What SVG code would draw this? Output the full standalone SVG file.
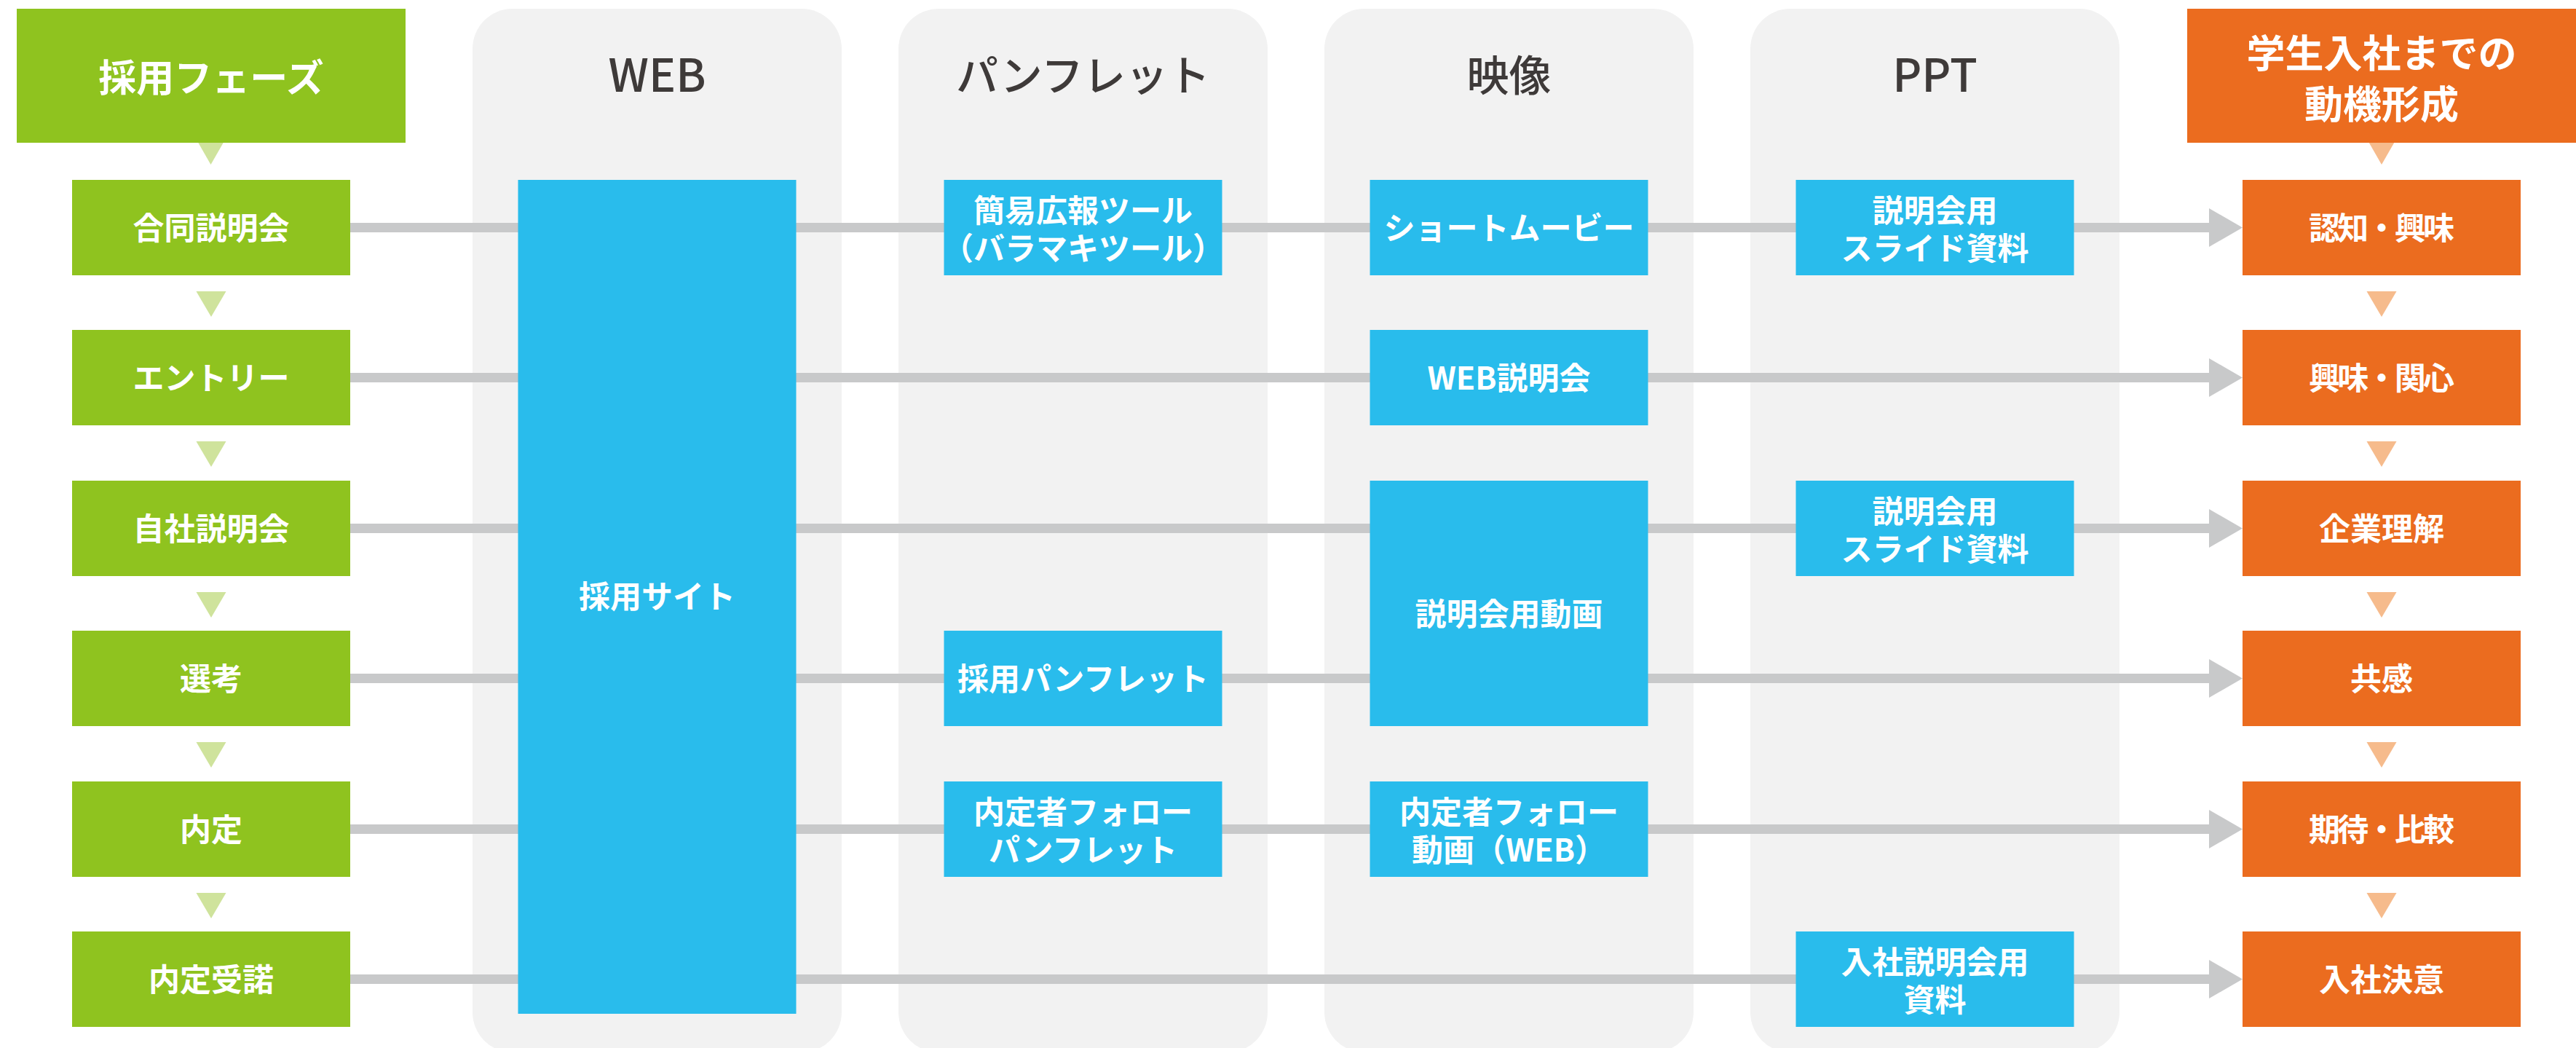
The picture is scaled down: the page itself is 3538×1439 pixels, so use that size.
<svg xmlns="http://www.w3.org/2000/svg" width="3538" height="1439" viewBox="0 0 3538 1439">
<style>
text{font-family:"Noto Sans CJK JP","Noto Sans",sans-serif;text-anchor:middle;dominant-baseline:central}
.lbl{font-size:43px;font-weight:700;fill:#ffffff}
.hdr{font-size:58px;font-weight:500;fill:#3e3a39}
.big{font-size:53px;font-weight:700;fill:#ffffff}
.col{fill:#f2f2f2}
.g{fill:#8fc31f}
.b{fill:#29bcec}
.o{fill:#eb6c1f}
.gt{fill:#cfe39c}
.ot{fill:#f6bb8c}
.ln{stroke:#c8c9ca;stroke-width:13;fill:none}
.ah{fill:#c8c9ca}
</style>
<rect width="3538" height="1439" fill="#ffffff"/>
<g id="columns">
<rect class="col" x="649" y="12" width="507" height="1433" rx="55"/>
<rect class="col" x="1234" y="12" width="507" height="1433" rx="55"/>
<rect class="col" x="1819" y="12" width="507" height="1433" rx="55"/>
<rect class="col" x="2404" y="12" width="507" height="1433" rx="55"/>
<text class="hdr" x="902.5" y="99" style="font-size:62px">WEB</text>
<text class="hdr" x="1487.5" y="100">パンフレット</text>
<text class="hdr" x="2072.5" y="100">映像</text>
<text class="hdr" x="2657.5" y="99" style="font-size:62px">PPT</text>
</g>
<g id="connectors">
<line class="ln" x1="481" y1="312.5" x2="3036" y2="312.5"/>
<line class="ln" x1="481" y1="518.5" x2="3036" y2="518.5"/>
<line class="ln" x1="481" y1="725.5" x2="3036" y2="725.5"/>
<line class="ln" x1="481" y1="931.5" x2="3036" y2="931.5"/>
<line class="ln" x1="481" y1="1138.5" x2="3036" y2="1138.5"/>
<line class="ln" x1="481" y1="1344.5" x2="3036" y2="1344.5"/>
<polygon class="ah" points="3034,286 3080,312.5 3034,339"/>
<polygon class="ah" points="3034,492 3080,518.5 3034,545"/>
<polygon class="ah" points="3034,699 3080,725.5 3034,752"/>
<polygon class="ah" points="3034,905 3080,931.5 3034,958"/>
<polygon class="ah" points="3034,1112 3080,1138.5 3034,1165"/>
<polygon class="ah" points="3034,1318 3080,1344.5 3034,1371"/>
<polygon class="gt" points="262,178 317,178 289.5,226"/>
<polygon class="gt" points="269.5,400 310.5,400 290,435"/>
<polygon class="gt" points="269.5,606 310.5,606 290,641"/>
<polygon class="gt" points="269.5,813 310.5,813 290,848"/>
<polygon class="gt" points="269.5,1019 310.5,1019 290,1054"/>
<polygon class="gt" points="269.5,1226 310.5,1226 290,1261"/>
<polygon class="ot" points="3243.5,178 3298.5,178 3271,226"/>
<polygon class="ot" points="3250.5,400 3291.5,400 3271,435"/>
<polygon class="ot" points="3250.5,606 3291.5,606 3271,641"/>
<polygon class="ot" points="3250.5,813 3291.5,813 3271,848"/>
<polygon class="ot" points="3250.5,1019 3291.5,1019 3271,1054"/>
<polygon class="ot" points="3250.5,1226 3291.5,1226 3271,1261"/>
</g>
<g id="phase-header"><rect class="g" x="23" y="12" width="534" height="184"/><text class="big" x="290" y="103" style="font-size:52px">採用フェーズ</text></g>
<g id="motive-header"><rect class="o" x="3004" y="12" width="534" height="184"/><text class="big"><tspan x="3271" y="70">学生入社までの</tspan><tspan x="3271" y="140">動機形成</tspan></text></g>
<g id="phase-1"><rect class="g" x="99" y="247" width="382" height="131"/><text class="lbl" x="290" y="309.5">合同説明会</text></g>
<g id="phase-2"><rect class="g" x="99" y="453" width="382" height="131"/><text class="lbl" x="290" y="515.5">エントリー</text></g>
<g id="phase-3"><rect class="g" x="99" y="660" width="382" height="131"/><text class="lbl" x="290" y="722.5">自社説明会</text></g>
<g id="phase-4"><rect class="g" x="99" y="866" width="382" height="131"/><text class="lbl" x="290" y="928.5">選考</text></g>
<g id="phase-5"><rect class="g" x="99" y="1073" width="382" height="131"/><text class="lbl" x="290" y="1135.5">内定</text></g>
<g id="phase-6"><rect class="g" x="99" y="1279" width="382" height="131"/><text class="lbl" x="290" y="1341.5">内定受諾</text></g>
<g id="web-site"><rect class="b" x="711.5" y="247" width="382" height="1145"/><text class="lbl" x="902.5" y="816">採用サイト</text></g>
<g id="pamph-1"><rect class="b" x="1296.5" y="247" width="382" height="131"/><text class="lbl"><tspan x="1487.5" y="286">簡易広報ツール</tspan><tspan x="1487.5" y="338">（バラマキツール）</tspan></text></g>
<g id="pamph-2"><rect class="b" x="1296.5" y="866" width="382" height="131"/><text class="lbl" x="1487.5" y="928.5">採用パンフレット</text></g>
<g id="pamph-3"><rect class="b" x="1296.5" y="1073" width="382" height="131"/><text class="lbl"><tspan x="1487.5" y="1112">内定者フォロー</tspan><tspan x="1487.5" y="1164">パンフレット</tspan></text></g>
<g id="video-1"><rect class="b" x="1881.5" y="247" width="382" height="131"/><text class="lbl" x="2072.5" y="309.5">ショートムービー</text></g>
<g id="video-2"><rect class="b" x="1881.5" y="453" width="382" height="131"/><text class="lbl" x="2072.5" y="515.5">WEB説明会</text></g>
<g id="video-3"><rect class="b" x="1881.5" y="660" width="382" height="337"/><text class="lbl" x="2072.5" y="840">説明会用動画</text></g>
<g id="video-4"><rect class="b" x="1881.5" y="1073" width="382" height="131"/><text class="lbl"><tspan x="2072.5" y="1112">内定者フォロー</tspan><tspan x="2072.5" y="1164">動画（WEB）</tspan></text></g>
<g id="ppt-1"><rect class="b" x="2466.5" y="247" width="382" height="131"/><text class="lbl"><tspan x="2657.5" y="286">説明会用</tspan><tspan x="2657.5" y="338">スライド資料</tspan></text></g>
<g id="ppt-2"><rect class="b" x="2466.5" y="660" width="382" height="131"/><text class="lbl"><tspan x="2657.5" y="699">説明会用</tspan><tspan x="2657.5" y="751">スライド資料</tspan></text></g>
<g id="ppt-3"><rect class="b" x="2466.5" y="1279" width="382" height="131"/><text class="lbl"><tspan x="2657.5" y="1318">入社説明会用</tspan><tspan x="2657.5" y="1370">資料</tspan></text></g>
<g id="motive-1"><rect class="o" x="3080" y="247" width="382" height="131"/><text class="lbl" x="3271" y="309.5" textLength="200">認知・興味</text></g>
<g id="motive-2"><rect class="o" x="3080" y="453" width="382" height="131"/><text class="lbl" x="3271" y="515.5" textLength="200">興味・関心</text></g>
<g id="motive-3"><rect class="o" x="3080" y="660" width="382" height="131"/><text class="lbl" x="3271" y="722.5">企業理解</text></g>
<g id="motive-4"><rect class="o" x="3080" y="866" width="382" height="131"/><text class="lbl" x="3271" y="928.5">共感</text></g>
<g id="motive-5"><rect class="o" x="3080" y="1073" width="382" height="131"/><text class="lbl" x="3271" y="1135.5" textLength="200">期待・比較</text></g>
<g id="motive-6"><rect class="o" x="3080" y="1279" width="382" height="131"/><text class="lbl" x="3271" y="1341.5">入社決意</text></g>
</svg>
